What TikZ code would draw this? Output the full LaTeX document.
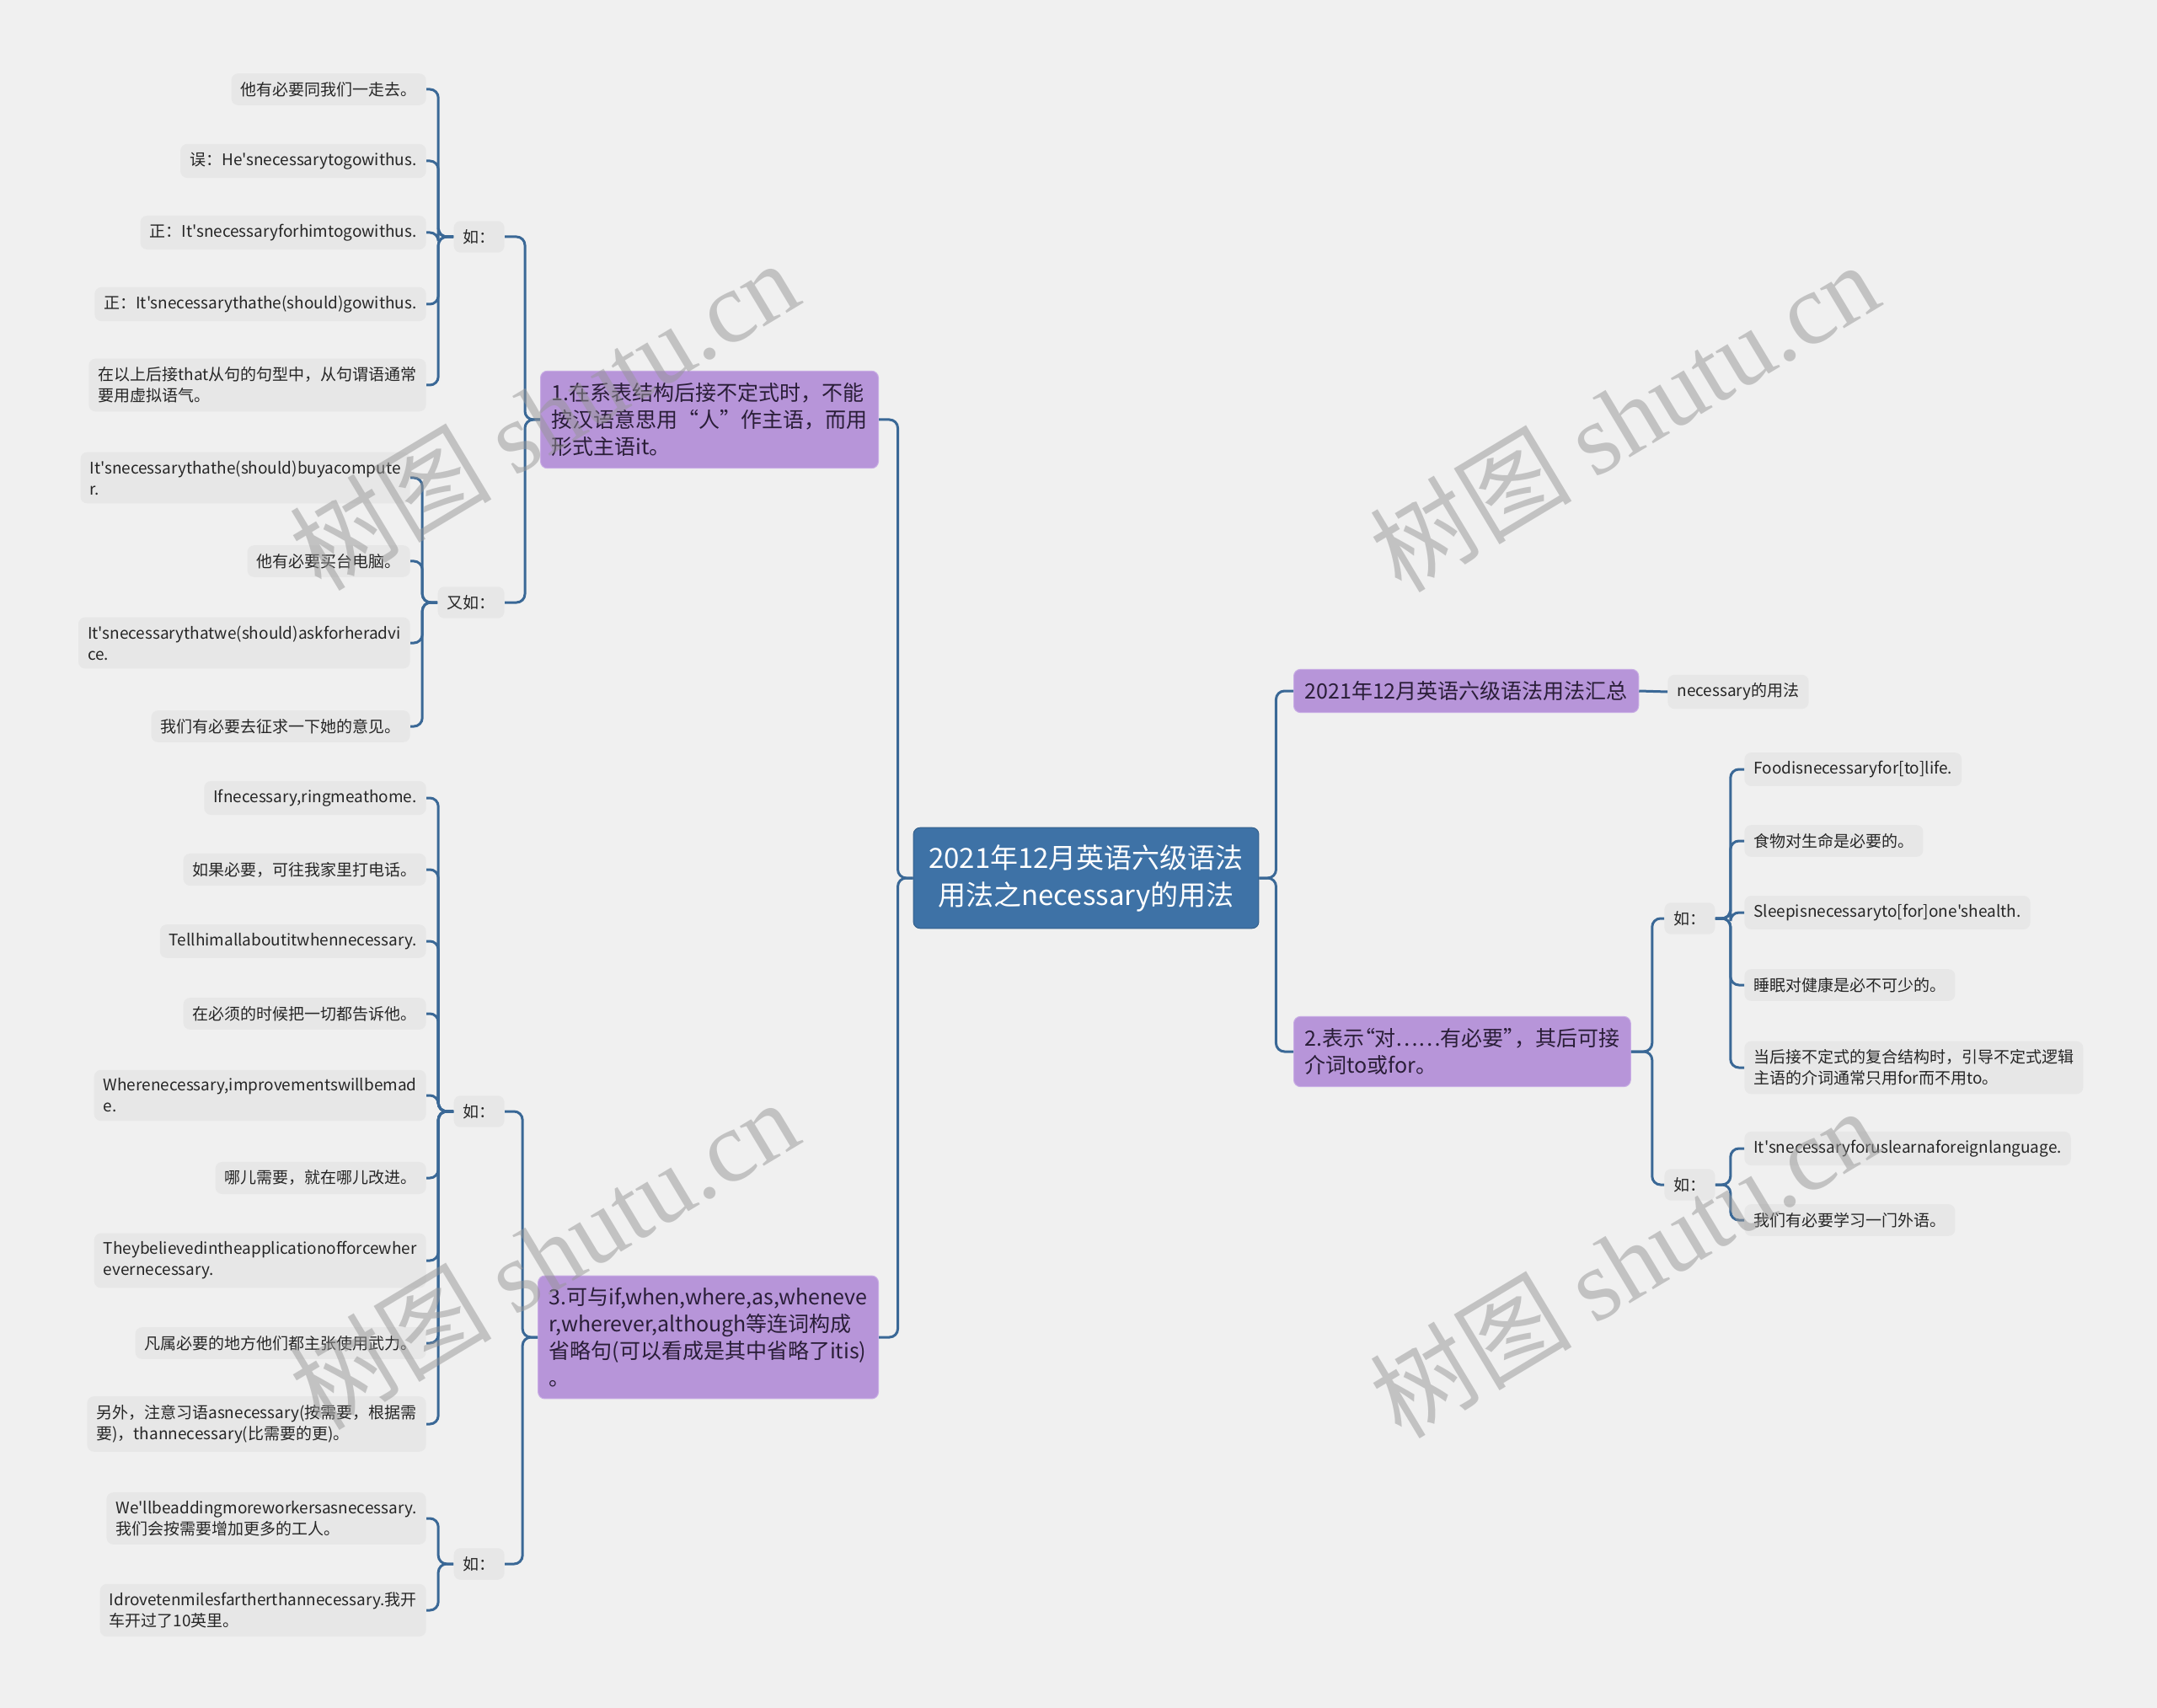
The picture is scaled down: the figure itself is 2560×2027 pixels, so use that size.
\documentclass[tikz,border=0pt]{standalone}
\usepackage{fontspec}
\newfontfamily\cjk{Noto Sans CJK SC}
\newfontfamily\cjkp{Noto Sans CJK SC}[RawFeature={+palt}]
\newfontfamily\wmserif{Liberation Serif}
\definecolor{bgcol}{RGB}{240,240,240}
\definecolor{leaffill}{RGB}{231,231,231}
\definecolor{leaftext}{RGB}{38,38,38}
\definecolor{linkcol}{RGB}{58,104,150}
\definecolor{purp}{RGB}{183,149,217}
\definecolor{purpline}{RGB}{200,172,228}
\definecolor{branchtext}{RGB}{42,30,56}
\definecolor{rootblue}{RGB}{62,114,166}
\definecolor{rootline}{RGB}{52,96,140}
\definecolor{wmgray}{RGB}{150,150,150}

\begin{document}
\begin{tikzpicture}[x=0.5pt,y=0.5pt,yscale=-1,xscale=1,
  leafbox/.style={fill=leaffill, rounded corners=4pt, inner xsep=5.5pt, inner ysep=5pt, text=leaftext, font=\cjk\fontsize{9.5}{12.5}\selectfont, align=left},
  egbox/.style={leafbox},
  branch/.style={fill=purp, draw=purpline, line width=0.5pt, rounded corners=4pt, inner xsep=6.5pt, inner ysep=7pt, text=branchtext, font=\cjk\fontsize{12.5}{16}\selectfont, align=left},
  root/.style={fill=rootblue, draw=rootline, line width=0.5pt, rounded corners=4pt, inner xsep=9pt, inner ysep=10pt, text=white, font=\cjk\fontsize{16.5}{22}\selectfont, align=center},
  link/.style={draw=linkcol, line width=1.5pt, rounded corners=5pt},
  wmark/.style={text=wmgray, text opacity=0.5, rotate=31}]
%set diagram size: 2560 x 2027
\fill[bgcol] (0,0) rectangle (2560,2027);
\useasboundingbox (0,0) rectangle (2560,2027);

% Root
\node[root] (root) at (1289,1042) {2021年12月英语六级语法\\用法之necessary的用法};

% Branches
\node[branch, anchor=east] (br1) at (1043,498) {1.在系表结构后接不定式时，不能\\按汉语意思用“人”作主语，而用\\形式主语it。};
\node[branch, anchor=east] (br3) at (1043,1587) {3.可与if,when,where,as,wheneve\\r,wherever,although等连词构成\\省略句(可以看成是其中省略了itis)\\。};
\node[branch, anchor=west] (br0) at (1535,820) {2021年12月英语六级语法用法汇总};
\node[branch, anchor=west] (br2) at (1535,1248) {2.表示{\cjkp “}对……有必要{\cjkp ”}，其后可接\\介词to或for。};

% Example tags
\node[egbox, anchor=east] (ra1) at (599,281) {如：};
\node[egbox, anchor=east] (ra2) at (599,715) {又如：};
\node[egbox, anchor=east] (rb1) at (599,1319) {如：};
\node[egbox, anchor=east] (rb2) at (599,1856) {如：};
\node[egbox, anchor=west] (rc1) at (1975,1090) {如：};
\node[egbox, anchor=west] (rc2) at (1975,1406) {如：};

% Text Node
\node[leafbox, anchor=east] (a11) at (506,106) {他有必要同我们一走去。};
\node[leafbox, anchor=east] (a12) at (506,191) {误：He'snecessarytogowithus.};
\node[leafbox, anchor=east] (a13) at (506,276) {正：It'snecessaryforhimtogowithus.};
\node[leafbox, anchor=east] (a14) at (506,361) {正：It'snecessarythathe(should)gowithus.};
\node[leafbox, anchor=east] (a15) at (506,457) {在以上后接that从句的句型中，从句谓语通常\\要用虚拟语气。};
% Text Node
\node[leafbox, anchor=east] (a21) at (487,567) {It'snecessarythathe(should)buyacompute\\r.};
\node[leafbox, anchor=east] (a22) at (487,666) {他有必要买台电脑。};
\node[leafbox, anchor=east] (a23) at (487,763) {It'snecessarythatwe(should)askforheradvi\\ce.};
\node[leafbox, anchor=east] (a24) at (487,862) {我们有必要去征求一下她的意见。};
% Text Node
\node[leafbox, anchor=east] (b11) at (506,947) {Ifnecessary,ringmeathome.};
\node[leafbox, anchor=east] (b12) at (506,1032) {如果必要，可往我家里打电话。};
\node[leafbox, anchor=east] (b13) at (506,1117) {Tellhimallaboutitwhennecessary.};
\node[leafbox, anchor=east] (b14) at (506,1203) {在必须的时候把一切都告诉他。};
\node[leafbox, anchor=east] (b15) at (506,1300) {Wherenecessary,improvementswillbemad\\e.};
\node[leafbox, anchor=east] (b16) at (506,1398) {哪儿需要，就在哪儿改进。};
\node[leafbox, anchor=east] (b17) at (506,1496) {Theybelievedintheapplicationofforcewher\\evernecessary.};
\node[leafbox, anchor=east] (b18) at (506,1594) {凡属必要的地方他们都主张使用武力。};
\node[leafbox, anchor=east] (b19) at (506,1690) {另外，注意习语asnecessary(按需要，根据需\\要)，thannecessary(比需要的更)。};
% Text Node
\node[leafbox, anchor=east] (b21) at (506,1802) {We'llbeaddingmoreworkersasnecessary.\\我们会按需要增加更多的工人。};
\node[leafbox, anchor=east] (b22) at (506,1911) {Idrovetenmilesfartherthannecessary.我开\\车开过了10英里。};
% Text Node
\node[leafbox, anchor=west] (n01) at (1979,821) {necessary的用法};
% Text Node
\node[leafbox, anchor=west] (c11) at (2070,913) {Foodisnecessaryfor[to]life.};
\node[leafbox, anchor=west] (c12) at (2070,998) {食物对生命是必要的。};
\node[leafbox, anchor=west] (c13) at (2070,1083) {Sleepisnecessaryto[for]one'shealth.};
\node[leafbox, anchor=west] (c14) at (2070,1169) {睡眠对健康是必不可少的。};
\node[leafbox, anchor=west] (c15) at (2070,1267) {当后接不定式的复合结构时，引导不定式逻辑\\主语的介词通常只用for而不用to。};
% Text Node
\node[leafbox, anchor=west] (c21) at (2070,1363) {It'snecessaryforuslearnaforeignlanguage.};
\node[leafbox, anchor=west] (c22) at (2070,1448) {我们有必要学习一门外语。};

%Straight Lines: root to branches
\draw[link] (root.west) -- ++(-18,0) |- (br1.east);
\draw[link] (root.west) -- ++(-18,0) |- (br3.east);
\draw[link] (root.east) -- ++(20,0) |- (br0.west);
\draw[link] (root.east) -- ++(20,0) |- (br2.west);
%Straight Lines: branches to tags
\draw[link] (br1.west) -- ++(-18,0) |- (ra1.east);
\draw[link] (br1.west) -- ++(-18,0) |- (ra2.east);
\draw[link] (br3.west) -- ++(-18,0) |- (rb1.east);
\draw[link] (br3.west) -- ++(-18,0) |- (rb2.east);
\draw[link] (br0.east) -- (n01.west);
\draw[link] (br2.east) -- ++(25,0) |- (rc1.west);
\draw[link] (br2.east) -- ++(25,0) |- (rc2.west);
%Straight Lines: tags to leaves
\draw[link] (ra1.west) -- ++(-18,0) |- (a11.east);
\draw[link] (ra1.west) -- ++(-18,0) |- (a12.east);
\draw[link] (ra1.west) -- ++(-18,0) |- (a13.east);
\draw[link] (ra1.west) -- ++(-18,0) |- (a14.east);
\draw[link] (ra1.west) -- ++(-18,0) |- (a15.east);
\draw[link] (ra2.west) -- ++(-18,0) |- (a21.east);
\draw[link] (ra2.west) -- ++(-18,0) |- (a22.east);
\draw[link] (ra2.west) -- ++(-18,0) |- (a23.east);
\draw[link] (ra2.west) -- ++(-18,0) |- (a24.east);
\draw[link] (rb1.west) -- ++(-18,0) |- (b11.east);
\draw[link] (rb1.west) -- ++(-18,0) |- (b12.east);
\draw[link] (rb1.west) -- ++(-18,0) |- (b13.east);
\draw[link] (rb1.west) -- ++(-18,0) |- (b14.east);
\draw[link] (rb1.west) -- ++(-18,0) |- (b15.east);
\draw[link] (rb1.west) -- ++(-18,0) |- (b16.east);
\draw[link] (rb1.west) -- ++(-18,0) |- (b17.east);
\draw[link] (rb1.west) -- ++(-18,0) |- (b18.east);
\draw[link] (rb1.west) -- ++(-18,0) |- (b19.east);
\draw[link] (rb2.west) -- ++(-18,0) |- (b21.east);
\draw[link] (rb2.west) -- ++(-18,0) |- (b22.east);
\draw[link] (rc1.east) -- ++(18,0) |- (c11.west);
\draw[link] (rc1.east) -- ++(18,0) |- (c12.west);
\draw[link] (rc1.east) -- ++(18,0) |- (c13.west);
\draw[link] (rc1.east) -- ++(18,0) |- (c14.west);
\draw[link] (rc1.east) -- ++(18,0) |- (c15.west);
\draw[link] (rc2.east) -- ++(18,0) |- (c21.west);
\draw[link] (rc2.east) -- ++(18,0) |- (c22.west);

% Watermarks
\node[wmark] (wm1) at (645,492) {\cjk\fontsize{60}{60}\selectfont 树图 \wmserif shutu.cn};
\node[wmark] (wm2) at (1927,494) {\cjk\fontsize{60}{60}\selectfont 树图 \wmserif shutu.cn};
\node[wmark] (wm3) at (645,1488) {\cjk\fontsize{60}{60}\selectfont 树图 \wmserif shutu.cn};
\node[wmark] (wm4) at (1927,1498) {\cjk\fontsize{60}{60}\selectfont 树图 \wmserif shutu.cn};

\end{tikzpicture}
\end{document}
